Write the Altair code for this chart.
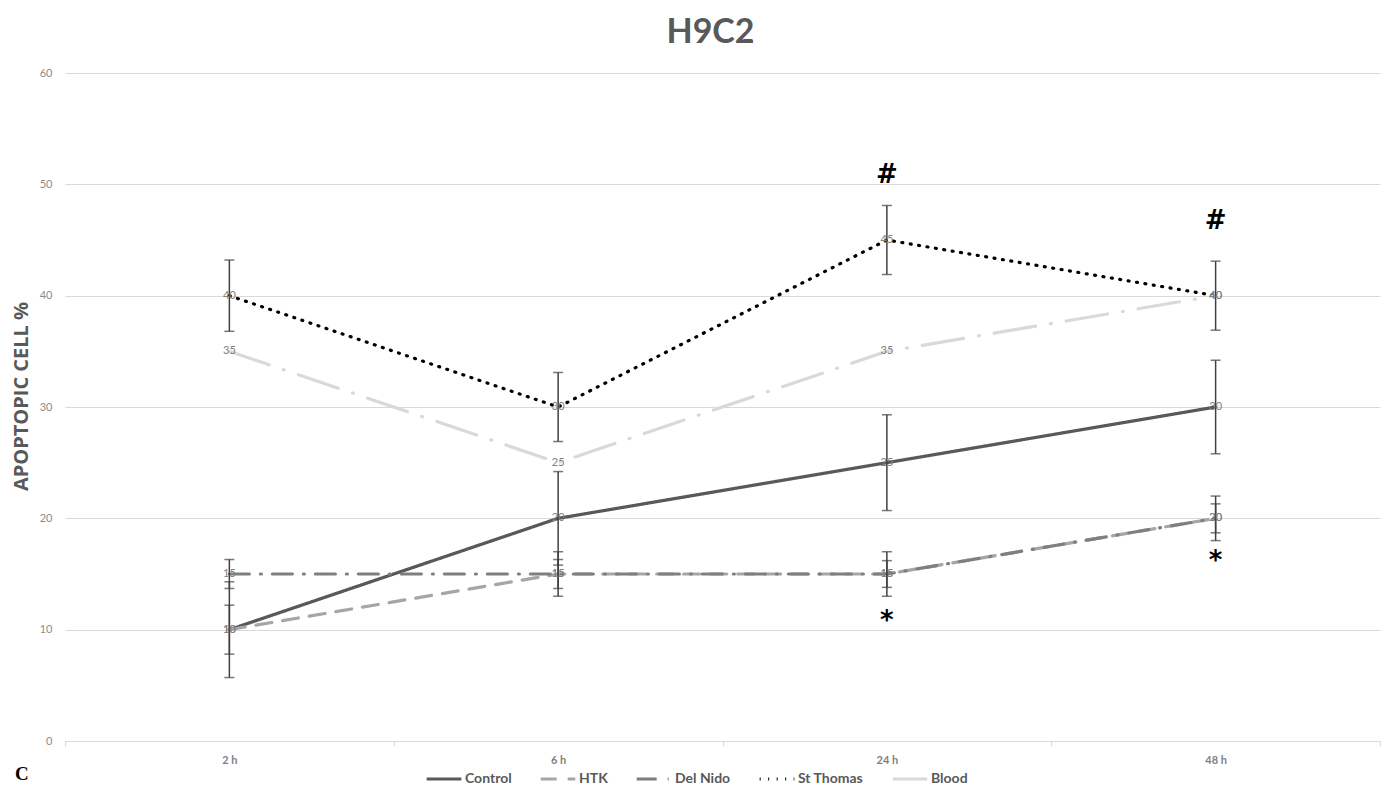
import altair as alt
import pandas as pd

# ---- data ----
times = ["2 h", "6 h", "24 h", "48 h"]
series = ["Control", "HTK", "Del Nido", "St Thomas", "Blood"]
control = [10, 20, 25, 30]
htk = [10, 15, 15, 20]
del_nido = [15, 15, 15, 20]
st_thomas = [40, 30, 45, 40]
blood = [35, 25, 35, 40]
control_err = [4.3, 4.2, 4.3, 4.2]
htk_err = [2.2, 2.0, 2.0, 2.0]
del_nido_err = [1.3, 1.3, 1.2, 1.3]
st_thomas_err = [3.2, 3.1, 3.1, 3.1]
hash_times = ["24 h", "48 h"]
hash_y = [50.8, 46.7]
star_times = ["24 h", "48 h"]
star_y = [10.8, 16.2]

# ---- styles ----
colors = ["#595959", "#a6a6a6", "#7f7f7f", "#000000", "#d9d9d9"]
dashes = [[1, 0], [16, 11], [20, 11, 1, 11], [1, 7.5], [42, 15, 1, 15]]
widths = [3.2, 3.2, 3.5, 3.5, 5]
FONT = "Lato"

values = [control, htk, del_nido, st_thomas, blood]
errs = [control_err, htk_err, del_nido_err, st_thomas_err, None]

rows = []
for s, vals, er in zip(series, values, errs):
    for i, t in enumerate(times):
        e = er[i] if er is not None else None
        rows.append({"series": s, "time": t, "value": vals[i],
                     "lo": vals[i] - e if e is not None else None,
                     "hi": vals[i] + e if e is not None else None})
df = pd.DataFrame(rows)
df_err = df.dropna(subset=["lo"])

ann = pd.DataFrame({"time": hash_times + star_times,
                    "y": hash_y + star_y,
                    "label": ["#"] * len(hash_times) + ["*"] * len(star_times)})

x_enc = alt.X("time:N", sort=times,
              scale=alt.Scale(type="band", paddingInner=0, paddingOuter=0),
              bandPosition=0.5,
              axis=alt.Axis(title=None, labelAngle=0, tickBand="extent",
                            labelColor="#7f7f7f", labelFontSize=11, labelFont=FONT,
                            labelFontWeight="bold",
                            domainColor="#d9d9d9", tickColor="#d9d9d9",
                            tickSize=5, labelPadding=8))
y_scale = alt.Scale(domain=[0, 60], nice=False)
y_enc = alt.Y("value:Q", scale=y_scale,
              axis=alt.Axis(title="APOPTOPIC CELL  %", values=list(range(0, 61, 10)),
                            domain=False, ticks=False, gridColor="#d9d9d9",
                            labelColor="#8c8c8c", labelFontSize=11, labelFont=FONT,
                            labelPadding=13, titleFont="Open Sans", titleFontSize=20,
                            titleFontWeight="bold", titleColor="#595959",
                            titlePadding=8, titleY=323))

lines = alt.Chart(df).mark_line(strokeCap="round").encode(
    x=x_enc, y=y_enc,
    color=alt.Color("series:N", sort=series,
                    scale=alt.Scale(domain=series, range=colors),
                    legend=alt.Legend(title=None, orient="none", direction="horizontal",
                                      legendX=360, legendY=687,
                                      symbolType="stroke", symbolSize=1200,
                                      labelFont=FONT, labelFontSize=14,
                                      labelFontWeight="bold", labelColor="#595959",
                                      columnPadding=22, labelOffset=2)),
    strokeDash=alt.StrokeDash("series:N", sort=series,
                              scale=alt.Scale(domain=series, range=dashes)),
    strokeWidth=alt.StrokeWidth("series:N", sort=series,
                                scale=alt.Scale(domain=series, range=widths)),
)

labels = alt.Chart(df).mark_text(fontSize=11, color="#808080", font=FONT).encode(
    x=alt.X("time:N", sort=times, bandPosition=0.5),
    y=alt.Y("value:Q"),
    text=alt.Text("value:Q"),
)

err_rule = alt.Chart(df_err).mark_rule(color="#404040", strokeWidth=1.5).encode(
    x=alt.X("time:N", sort=times, bandPosition=0.5),
    y=alt.Y("lo:Q"), y2="hi:Q",
)
cap_lo = alt.Chart(df_err).mark_tick(color="#404040", thickness=1.5, size=10,
                                     orient="horizontal").encode(
    x=alt.X("time:N", sort=times, bandPosition=0.5), y=alt.Y("lo:Q"))
cap_hi = alt.Chart(df_err).mark_tick(color="#404040", thickness=1.5, size=10,
                                     orient="horizontal").encode(
    x=alt.X("time:N", sort=times, bandPosition=0.5), y=alt.Y("hi:Q"))

annots = alt.Chart(ann).mark_text(fontSize=26, fontWeight="bold", color="#000000",
                                  font="DejaVu Sans", baseline="middle").encode(
    x=alt.X("time:N", sort=times, bandPosition=0.5),
    y=alt.Y("y:Q"),
    text="label:N",
)

letter = alt.Chart(pd.DataFrame({"t": ["C"]})).mark_text(
    fontSize=19, fontWeight="bold", font="Liberation Serif", color="#000000",
    align="left", baseline="middle").encode(
    x=alt.value(-50), y=alt.value(701), text="t:N")

chart = alt.layer(lines, err_rule, cap_lo, cap_hi, labels, annots, letter).properties(
    width=1315, height=668,
    autosize=alt.AutoSizeParams(type="none"),
    padding={"left": 57, "top": 65, "right": 1, "bottom": 44},
    title=alt.TitleParams("H9C2", font=FONT, fontSize=34, fontWeight="bold",
                          color="#595959", anchor="middle", offset=17, dx=-12),
).configure_view(stroke=None)

chart.save("out.html", embed_options={"renderer": "svg", "actions": False})
